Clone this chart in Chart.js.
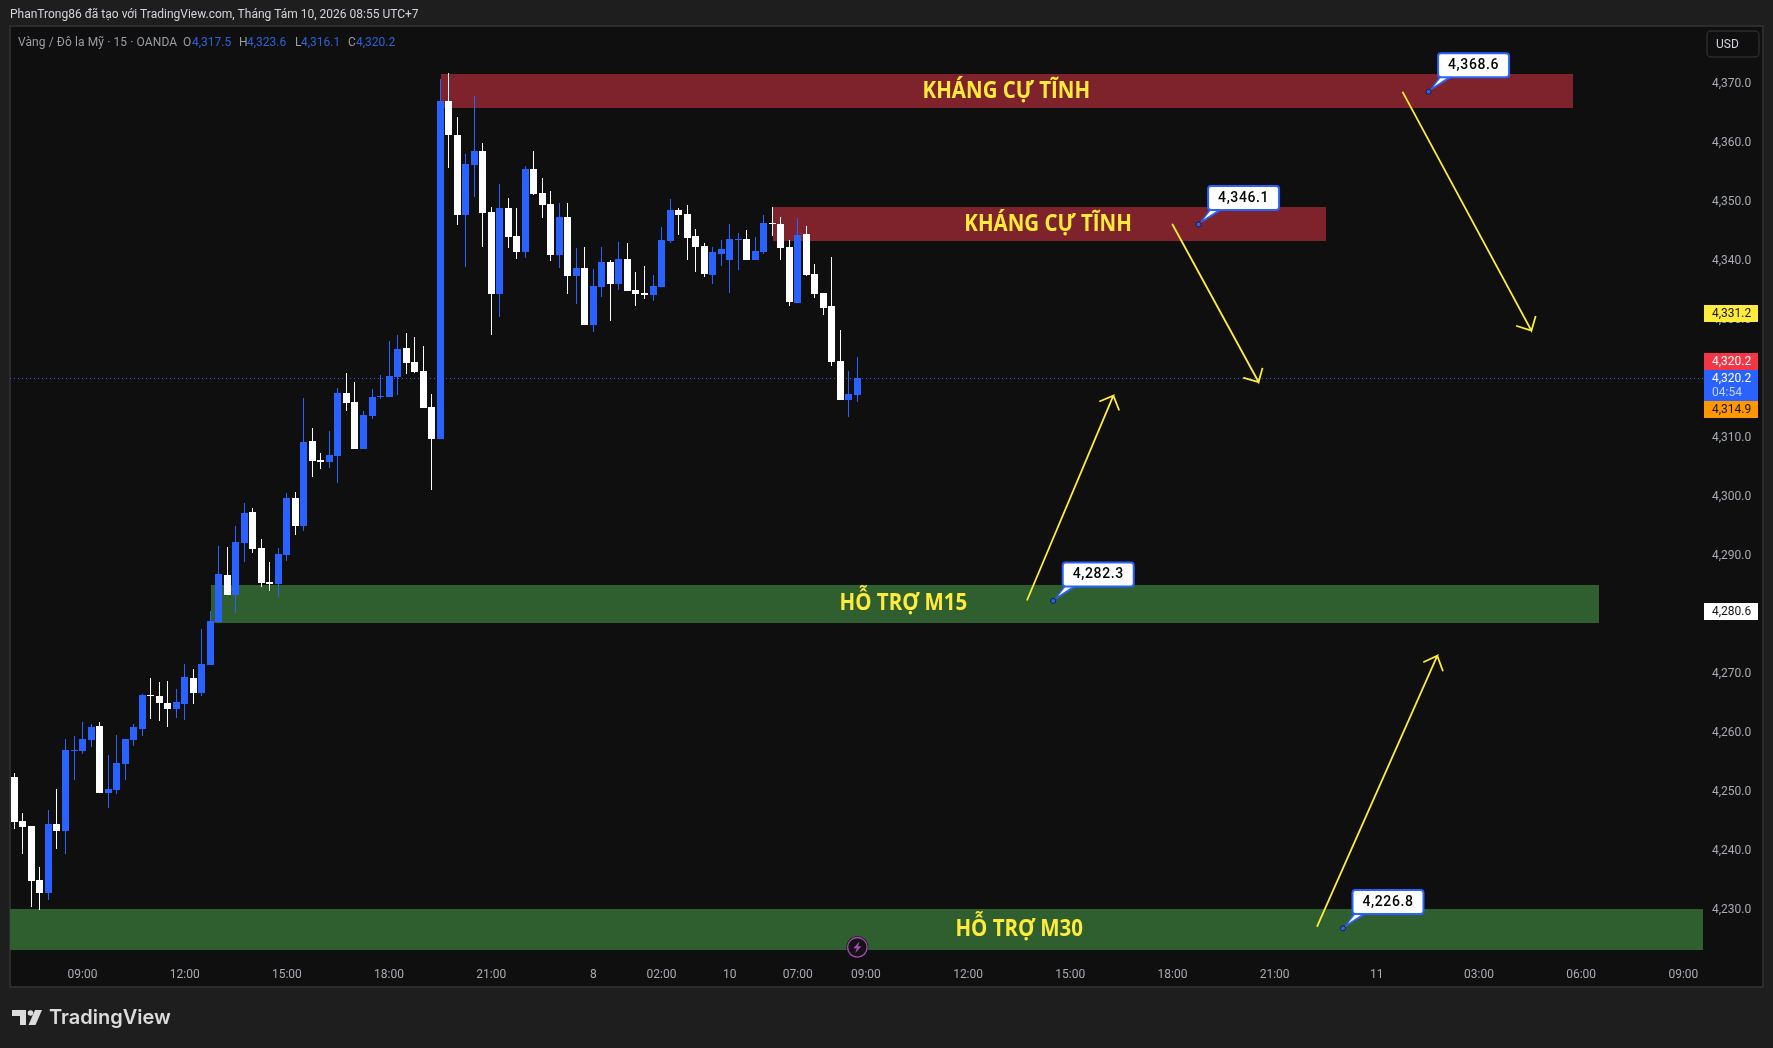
<!DOCTYPE html>
<html><head><meta charset="utf-8">
<style>html,body{margin:0;padding:0;background:#1e1e1e;overflow:hidden}canvas{display:block}</style>
<script src="https://cdn.jsdelivr.net/npm/chart.js@4"></script>
</head><body>
<div style="position:relative;width:1773px;height:1048px"><canvas id="c" width="1773" height="1048"></canvas></div>
<script>
const opens=[4252.5,4245.0,4244.2,4235.0,4232.8,4244.5,4243.3,4256.9,4256.9,4258.7,4261.1,4249.8,4250.3,4254.7,4258.7,4260.6,4266.4,4266.2,4265.0,4264.0,4264.8,4269.2,4266.7,4271.4,4278.7,4286.7,4283.3,4292.1,4297.4,4291.3,4285.5,4285.2,4290.1,4299.8,4295.0,4309.4,4306.2,4305.8,4306.9,4317.5,4316.0,4308.1,4313.6,4316.9,4316.9,4320.2,4325.2,4322.8,4321.3,4315.2,4309.7,4367.0,4361.3,4347.7,4356.2,4358.6,4348.2,4334.3,4348.9,4344.2,4341.4,4355.5,4351.4,4349.6,4340.9,4347.4,4337.4,4338.7,4329.1,4335.5,4339.7,4336.0,4340.3,4335.0,4334.5,4334.2,4335.5,4343.3,4348.6,4347.9,4344.2,4342.5,4337.5,4341.1,4340.1,4343.5,4343.6,4340.1,4341.4,4346.4,4346.2,4342.3,4332.8,4344.5,4337.7,4334.5,4332.3,4323.0,4316.4,4317.2];
const highs=[4253.1,4246.4,4244.2,4237.2,4246.9,4250.4,4258.9,4259.4,4261.8,4261.4,4261.8,4256.2,4259.6,4258.9,4261.4,4266.5,4269.2,4268.6,4268.7,4267.4,4271.6,4270.8,4277.6,4280.6,4291.6,4291.4,4295.0,4298.9,4298.0,4292.8,4288.9,4291.3,4300.6,4300.8,4316.7,4311.6,4307.4,4311.1,4318.4,4320.9,4319.4,4314.5,4318.2,4320.6,4326.4,4327.4,4327.7,4327.0,4325.5,4317.4,4370.8,4371.8,4364.3,4358.0,4367.9,4359.9,4349.1,4353.0,4350.6,4348.9,4356.0,4358.6,4354.0,4351.8,4349.7,4349.7,4342.1,4342.3,4338.6,4342.3,4340.1,4343.1,4343.0,4338.0,4339.1,4337.5,4345.7,4350.4,4348.9,4349.4,4345.3,4343.0,4342.3,4343.5,4346.2,4344.7,4345.2,4344.0,4347.7,4349.1,4347.4,4343.5,4347.2,4345.8,4339.4,4334.5,4340.6,4328.2,4321.3,4323.6];
const lows=[4243.7,4239.4,4230.4,4229.9,4231.6,4240.3,4239.4,4252.0,4256.4,4257.5,4249.8,4247.2,4249.6,4252.0,4257.7,4259.4,4262.3,4262.0,4260.9,4262.5,4262.1,4264.8,4266.2,4271.4,4278.6,4283.3,4280.3,4288.9,4290.4,4284.7,4284.0,4283.0,4289.1,4293.5,4294.2,4303.3,4304.7,4304.8,4302.3,4314.5,4308.1,4308.1,4313.1,4316.5,4316.9,4317.2,4320.8,4320.9,4315.0,4301.1,4309.7,4355.7,4346.0,4338.9,4350.8,4342.3,4327.4,4330.4,4342.1,4340.3,4340.4,4351.1,4347.2,4339.9,4338.7,4334.3,4332.6,4329.1,4327.9,4333.8,4329.7,4335.0,4334.8,4332.3,4333.5,4333.1,4335.5,4343.0,4344.3,4340.1,4338.0,4337.2,4336.0,4339.1,4334.5,4338.4,4340.1,4340.1,4341.1,4344.2,4340.1,4332.3,4332.8,4337.4,4333.6,4330.8,4322.1,4316.4,4313.5,4316.0];
const closes=[4244.8,4244.0,4234.8,4232.8,4244.5,4243.3,4257.0,4257.0,4258.9,4260.9,4249.8,4250.4,4254.8,4258.9,4260.9,4266.4,4266.2,4265.0,4264.0,4265.2,4269.4,4266.7,4271.6,4278.9,4286.9,4283.3,4292.3,4297.2,4291.1,4285.3,4285.2,4290.3,4299.8,4295.0,4309.2,4306.0,4305.8,4307.0,4317.5,4315.8,4308.1,4313.8,4316.9,4317.0,4320.4,4325.0,4322.6,4321.1,4315.0,4309.7,4367.0,4361.3,4347.7,4356.4,4358.6,4348.0,4334.3,4348.9,4344.0,4341.4,4355.5,4351.3,4349.4,4340.9,4347.4,4337.4,4338.7,4329.1,4335.7,4339.7,4336.0,4340.3,4334.8,4334.3,4334.2,4335.7,4343.5,4348.6,4347.7,4343.8,4342.3,4337.7,4341.4,4341.9,4343.6,4343.6,4340.1,4341.6,4346.4,4346.2,4342.1,4333.0,4344.3,4337.5,4334.3,4331.9,4322.8,4316.4,4317.4,4320.1];

const priceTicks=[4230,4240,4250,4260,4270,4280,4290,4300,4310,4320,4330,4340,4350,4360,4370];
const timeTickIndex=[8,20,32,44,56,68,76,84,92,100,112,124,136,148,160,172,184,196];
const timeTickLabels=['09:00','12:00','15:00','18:00','21:00','8','02:00','10','07:00','09:00','12:00','15:00','18:00','21:00','11','03:00','06:00','09:00'];
const xRange=[-0.5167,198.427];
const yRange=[4221.441,4379.576];
const lastPrice=4320.2;
const priceLineLevel=[4320.0,4320.0];

// zones: [fromIndex,toIndex,top,bottom]
const zoneResist1=[50.1,183.04,4371.6,4365.8];
const zoneResist2=[89.09,154.03,4349.07,4343.3];
const zoneSupport15=[23.09,186.1,4285.0,4278.56];
const zoneSupport30=[-0.52,198.3,4230.1,4223.1];
const zoneLabels=['KHÁNG CỰ TĨNH','KHÁNG CỰ TĨNH','HỖ TRỢ M15','HỖ TRỢ M30'];
const zoneLabelX=[116.5,121.4,104.4,118];
const zoneLabelY=[4368.7,4346.1,4281.9,4226.7];

// arrows: tail, tip, head corner, tip, head corner
const arrow1X=[163.06,178.16,178.66,178.16,176.44];
const arrow1Y=[4368.5,4328.1,4330.6,4328.1,4328.9];
const arrow2X=[136.01,146.12,146.58,146.12,144.39];
const arrow2Y=[4346.1,4319.4,4321.8,4319.4,4320.1];
const arrow3X=[118.95,129.06,127.41,129.06,129.72];
const arrow3Y=[4282.5,4317.1,4316.1,4317.1,4314.7];
const arrow4X=[153.01,167.1,165.46,167.1,167.74];
const arrow4Y=[4227.2,4273.0,4271.9,4273.0,4270.5];

const calloutIndex=[166.08,139.07,122.0,156.03];
const calloutPrice=[4368.6,4346.1,4282.3,4226.8];
const eventIndex=99;

const BLUE='#2962ff',WHITE='#ffffff',YEL='#ffeb3b',UI='Roboto, sans-serif';
const candleColor=i=>closes[i]>=opens[i]?BLUE:WHITE;
const idx=opens.map((_,i)=>i);
const pts=(xs,ys)=>xs.map((x,i)=>({x,y:ys[i]}));
const fmt=v=>v.toLocaleString('en-US',{minimumFractionDigits:1,maximumFractionDigits:1});
const arrowDs=(xs,ys)=>({type:'line',data:pts(xs,ys),borderColor:YEL,borderWidth:1.8,pointRadius:0,tension:0,fill:false,order:1,borderCapStyle:'round'});

const snap={id:'snap',afterDatasetsUpdate(ch){
  ch.data.datasets.forEach((d,k)=>{
    if(d.type==='line')return;
    ch.getDatasetMeta(k).data.forEach(el=>{
      el.x=Math.floor(el.x)+0.5;
      el.y=Math.round(el.y);el.base=Math.round(el.base);
      if(Math.abs(el.base-el.y)<1)el.base=el.y+1;
    });
  });
}};

const frame={id:'frame',beforeDraw(ch){
  const c=ch.ctx;c.save();
  c.fillStyle='#1e1e1e';c.fillRect(0,0,1773,1048);
  c.fillStyle='#0f0f0f';c.fillRect(10,27,1753,960);
  c.strokeStyle='#2c2c2c';c.lineWidth=2;c.strokeRect(10,26,1753,961);
  c.restore();
},
beforeDatasetsDraw(ch){
  const c=ch.ctx,x=ch.scales.x,y=ch.scales.y;c.save();
  const band=(z,col)=>{c.fillStyle=col;const l=Math.round(x.getPixelForValue(z[0])),r=Math.round(x.getPixelForValue(z[1])),t=Math.round(y.getPixelForValue(z[2])),b=Math.round(y.getPixelForValue(z[3]));c.fillRect(l,t,r-l,b-t);};
  band(zoneResist1,'#7e232c');band(zoneResist2,'#7e232c');
  band(zoneSupport15,'#2f5f2f');band(zoneSupport30,'#2f5f2f');
  c.restore();
},
afterDatasetsDraw(ch){
  const c=ch.ctx,x=ch.scales.x,y=ch.scales.y;c.save();
  c.textBaseline='middle';
  // zone labels
  c.font='700 23px "Open Sans", sans-serif';c.fillStyle=YEL;c.textAlign='center';
  zoneLabels.forEach((t,i)=>{c.save();c.translate(x.getPixelForValue(zoneLabelX[i]),y.getPixelForValue(zoneLabelY[i]));c.scale(0.89,1);c.fillText(t,0,0);c.restore();});
  // callouts
  calloutIndex.forEach((ix,i)=>{
    const px=x.getPixelForValue(ix),py=y.getPixelForValue(calloutPrice[i]);
    const L=px+9.5,T=py-38.5,W=71,H=24;
    c.fillStyle=BLUE;c.beginPath();c.moveTo(px,py);c.lineTo(L+1,T+H);c.lineTo(L+14,T+H);c.closePath();c.fill();
    c.fillStyle=WHITE;c.beginPath();c.moveTo(px+5,py-5);c.lineTo(L+3,T+H);c.lineTo(L+10,T+H);c.closePath();c.fill();
    c.beginPath();c.roundRect(L,T,W,H,3);c.fillStyle=WHITE;c.fill();c.strokeStyle=BLUE;c.lineWidth=2;c.stroke();
    c.beginPath();c.arc(px,py,2.5,0,Math.PI*2);c.fillStyle=BLUE;c.fill();c.strokeStyle='#10203a';c.lineWidth=1;c.stroke();
    c.fillStyle='#000';c.textAlign='center';c.font='500 14px '+UI;c.letterSpacing='0.6px';
    c.fillText(fmt(calloutPrice[i]),L+W/2,T+H/2+0.5);c.letterSpacing='0px';
  });
  // event icon
  const ex=x.getPixelForValue(eventIndex),ey=ch.chartArea.bottom-12.7;
  c.beginPath();c.arc(ex,ey,11,0,Math.PI*2);c.fillStyle='#131313';c.fill();
  c.beginPath();c.arc(ex,ey,9.8,0,Math.PI*2);c.strokeStyle='#ab47bc';c.lineWidth=1.4;c.stroke();
  c.fillStyle='#ab47bc';c.beginPath();c.moveTo(ex+2.2,ey-6);c.lineTo(ex-4,ey+1);c.lineTo(ex-0.6,ey+1);c.lineTo(ex-2.2,ey+6);c.lineTo(ex+4,ey-1);c.lineTo(ex+0.6,ey-1);c.closePath();c.fill();
  c.restore();
},
afterDraw(ch){
  const c=ch.ctx;c.save();c.textBaseline='middle';c.textAlign='left';
  // price tags
  const tag=(t,b,bg,fg,txt,sub)=>{c.fillStyle=bg;c.fillRect(1704,t,54,b-t);c.font='12px '+UI;c.fillStyle=fg;c.fillText(txt,1712,sub?t+8.5:(t+b)/2+0.5);if(sub){c.fillStyle='#c3d1ff';c.fillText(sub,1712,t+22.5);}};
  tag(305,322,YEL,'#131313',fmt(4331.2));
  tag(353,370,'#f23645',WHITE,fmt(lastPrice));
  tag(370,401,BLUE,WHITE,fmt(lastPrice),'04:54');
  tag(401,418,'#ff9800','#131313',fmt(4314.9));
  tag(603,620,WHITE,'#131313',fmt(4280.6));
  // USD button
  c.beginPath();c.roundRect(1707,31,52,26,4);c.strokeStyle='#2c2c2c';c.lineWidth=1.5;c.stroke();
  c.font='12px '+UI;c.fillStyle='#d1d4dc';c.fillText('USD',1716,45);
  // header
  c.font='12px '+UI;c.fillStyle='#d1d4dc';c.fillText('PhanTrong86 đã tạo với TradingView.com, Tháng Tám 10, 2026 08:55 UTC+7',10,15);
  // legend
  c.fillStyle='#9a9da5';c.letterSpacing='0.1px';c.fillText('Vàng / Đô la Mỹ · 15 · OANDA',18,43);c.letterSpacing='0px';
  const leg=[['O',183,'4,317.5',192],['H',239,'4,323.6',247],['L',295,'4,316.1',301],['C',348,'4,320.2',356]];
  leg.forEach(l=>{c.fillStyle='#9a9da5';c.fillText(l[0],l[1],43);c.fillStyle='#2e62dc';c.fillText(l[2],l[3],43);});
  // logo
  c.fillStyle='#dcdcdc';c.fillRect(12,1010,14,6);c.fillRect(20,1010,6,15);
  c.beginPath();c.arc(30.5,1013,2.8,0,Math.PI*2);c.fill();
  c.beginPath();c.moveTo(35,1010);c.lineTo(42,1010);c.lineTo(35.5,1025);c.lineTo(28.5,1025);c.closePath();c.fill();
  c.font='600 20px Inter, sans-serif';c.fillStyle='#dcdcdc';c.fillText('TradingView',49,1018);
  c.restore();
}};

new Chart(document.getElementById('c').getContext('2d'),{
  type:'bar',
  plugins:[snap,frame],
  data:{datasets:[
    {type:'line',data:pts(xRange,priceLineLevel),borderColor:BLUE,borderWidth:1,borderDash:[1,3],pointRadius:0,order:5},
    {type:'bar',data:idx.map(i=>({x:i,y:[lows[i],highs[i]]})),backgroundColor:idx.map(candleColor),barThickness:1,grouped:false,order:3,inflateAmount:0,borderWidth:0},
    {type:'bar',data:idx.map(i=>({x:i,y:[opens[i],closes[i]]})),backgroundColor:idx.map(candleColor),barThickness:7,grouped:false,order:2,inflateAmount:0,borderWidth:0},
    arrowDs(arrow1X,arrow1Y),arrowDs(arrow2X,arrow2Y),arrowDs(arrow3X,arrow3Y),arrowDs(arrow4X,arrow4Y)
  ]},
  options:{
    responsive:false,animation:false,devicePixelRatio:1,
    layout:{padding:{left:10,right:10,top:27,bottom:61}},
    plugins:{legend:{display:false},tooltip:{enabled:false},title:{display:false}},
    scales:{
      x:{type:'linear',offset:false,min:xRange[0],max:xRange[1],
        grid:{display:false,drawTicks:false},border:{display:false},
        afterBuildTicks:s=>{s.ticks=timeTickIndex.map(v=>({value:v}));},
        afterFit:s=>{s.height=27;},
        ticks:{autoSkip:false,maxRotation:0,padding:8,color:'#a8abb3',font:{family:'Roboto',size:12},
          callback:(v,i)=>timeTickLabels[i]}},
      y:{type:'linear',position:'right',min:yRange[0],max:yRange[1],
        grid:{display:false,drawTicks:false},border:{display:false},
        afterBuildTicks:s=>{s.ticks=priceTicks.map(v=>({value:v}));},
        afterFit:s=>{s.width=59;},
        ticks:{autoSkip:false,padding:8,labelOffset:0.5,color:'#a8abb3',font:{family:'Roboto',size:12},
          callback:v=>fmt(v)}}
    }
  }
});
</script>
</body></html>
